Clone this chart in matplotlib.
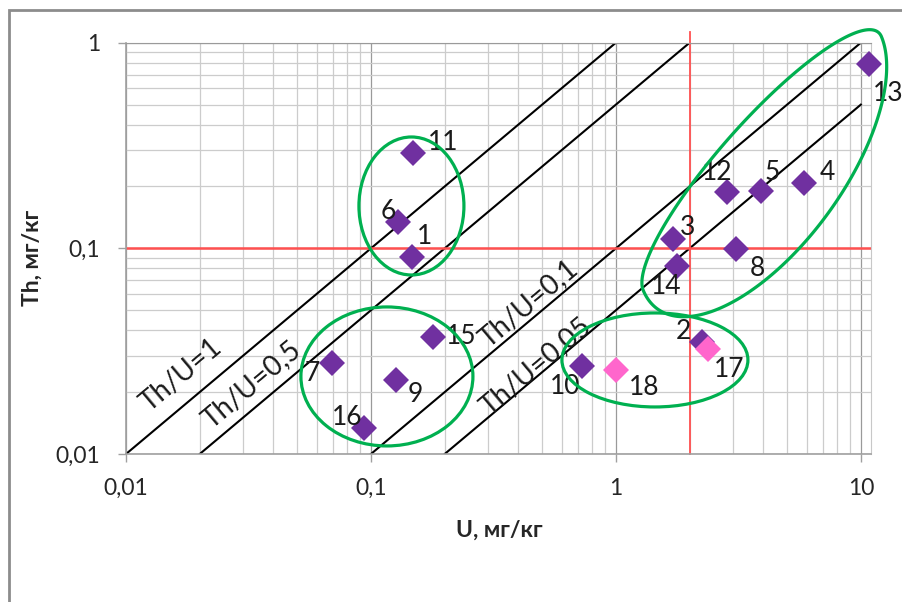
import numpy as np
import matplotlib
matplotlib.use('Agg')
import matplotlib.pyplot as plt
from matplotlib.patches import Ellipse, Polygon, Rectangle
from matplotlib.transforms import IdentityTransform
from matplotlib.ticker import FixedLocator, LogLocator, NullFormatter

plt.rcParams['font.family'] = ['Lato', 'Open Sans', 'DejaVu Sans']

# samples: U and Th, mg/kg
sample_id = ['1', '2', '3', '4', '5', '6', '7', '8', '9',
             '10', '11', '12', '13', '14', '15', '16', '17', '18']
u_val = [0.147, 2.25, 1.71, 5.85, 3.90, 0.129, 0.0694, 3.09, 0.1265,
         0.726, 0.148, 2.84, 10.8, 1.77, 0.179, 0.0936, 2.37, 1.0]
th_val = [0.0908, 0.035, 0.111, 0.207, 0.190, 0.134, 0.0277, 0.0989, 0.0229,
          0.0268, 0.291, 0.187, 0.785, 0.0823, 0.0371, 0.01337, 0.0325, 0.0256]
pink_ids = ['17', '18']

# Th/U reference lines
ratios = [1, 0.5, 0.1, 0.05]
ratio_text = ['Th/U=1', 'Th/U=0,5', 'Th/U=0,1', 'Th/U=0,05']

x_ticks = [0.01, 0.1, 1, 10]
x_ticklabels = ['0,01', '0,1', '1', '10']
y_ticks = [0.01, 0.1, 1]
y_ticklabels = ['0,01', '0,1', '1']

u_limit = 2     # red lines
th_limit = 0.1

# label placement (pixels from the point)
label_off = {'1': (13, 20), '2': (-19, 11), '3': (15, 12), '4': (24, 11),
             '5': (11, 19), '6': (-10, 11), '7': (-20, -10), '8': (21, -19),
             '9': (19, -15), '10': (-17, -21), '11': (30, 10), '12': (-10, 20),
             '13': (19, -29), '14': (-10, -21), '15': (28, 0), '16': (-17, 11),
             '17': (21, -21), '18': (28, -17)}
ratio_text_pos = [(0.01676, 0.02424), (0.0327, 0.02168), (0.4416, 0.0542), (0.471, 0.0268)]

purple = '#7030A0'
pink = '#FF66CC'
green = '#00B050'
red = '#FF5050'

fig = plt.figure(figsize=(9.02, 6.02), dpi=100)
ax = fig.add_axes([126 / 902, 1 - 454 / 602, 745 / 902, 411.3 / 602])
ax.set_xscale('log')
ax.set_yscale('log')
ax.set_xlim(0.01, 11)
ax.set_ylim(0.01, 1)

ax.xaxis.set_minor_locator(LogLocator(base=10, subs=np.arange(2, 10)))
ax.yaxis.set_minor_locator(LogLocator(base=10, subs=np.arange(2, 10)))
ax.xaxis.set_minor_formatter(NullFormatter())
ax.yaxis.set_minor_formatter(NullFormatter())
ax.xaxis.set_major_locator(FixedLocator(x_ticks))
ax.yaxis.set_major_locator(FixedLocator(y_ticks))
ax.set_xticklabels(x_ticklabels)
ax.set_yticklabels(y_ticklabels)

ax.grid(which='major', color='#9a9a9a', lw=0.9, zorder=0)
ax.grid(which='minor', color='#cccccc', lw=0.9, zorder=0)
ax.set_axisbelow(True)
ax.tick_params(which='major', direction='out', length=5.5, width=1,
               color='#a0a0a0', labelsize=16.5, labelcolor='#262626')
ax.tick_params(axis='x', pad=12)
ax.tick_params(axis='y', pad=13)
ax.tick_params(which='minor', length=0)
for side in ['left', 'bottom']:
    ax.spines[side].set_color('#a0a0a0')
    ax.spines[side].set_linewidth(1.2)
ax.spines['top'].set_color('#9a9a9a')
ax.spines['right'].set_color('#c8c8c8')

# ratio lines
for r in ratios:
    u_line = np.array([0.01 / r, min(1 / r, 10)])
    ax.plot(u_line, r * u_line, color='black', lw=1.5, zorder=2)

# red limits
ax.axhline(th_limit, color=red, lw=1.8, zorder=2)
ax.plot([u_limit, u_limit], [0.01, 1.13], color=red, lw=1.3, zorder=2, clip_on=False)

# points
for sid, u, th in zip(sample_id, u_val, th_val):
    c = pink if sid in pink_ids else purple
    z = 4 if sid in pink_ids else 3
    ax.plot(u, th, marker='D', ms=13.3, color=c, mew=0, ls='none', zorder=z, clip_on=False)
    ax.annotate(sid, (u, th), xytext=label_off[sid], textcoords='offset pixels',
                ha='center', va='center', fontsize=19, color='#1a1a1a', zorder=5,
                annotation_clip=False)

# line labels, rotated along the lines
p0 = ax.transData.transform((0.1, 0.1))
p1 = ax.transData.transform((1, 1))
ang = np.degrees(np.arctan2(p1[1] - p0[1], p1[0] - p0[0]))
for txt, (tx, ty) in zip(ratio_text, ratio_text_pos):
    ax.text(tx, ty, txt, rotation=ang, rotation_mode='anchor', ha='center', va='center',
            fontsize=20, color='#1a1a1a', zorder=5)

ax.set_xlabel('U, мг/кг', fontsize=16.5, fontweight='bold', color='#262626')
ax.xaxis.label.set_va('center')
ax.xaxis.set_label_coords(0.5007, -0.1848)
ax.set_ylabel('Th, мг/кг', fontsize=16.5, fontweight='bold', color='#262626')
ax.yaxis.label.set_va('center')
ax.yaxis.set_label_coords(-0.1262, 0.4765)

# hand drawn group outlines (centre in data, size in pixels)
ell_center = [(0.1463, 0.1607), (0.1162, 0.02383), (1.443, 0.02866)]
ell_size = [(105, 138), (172, 139), (186, 94)]
for (ex, ey), (w, h) in zip(ell_center, ell_size):
    cx, cy = ax.transData.transform((ex, ey))
    fig.add_artist(Ellipse((cx, cy), w, h, fill=False, edgecolor=green, lw=2.3,
                           transform=IdentityTransform()))


def egg(cx, cy, half_len, w_up, w_low, shear, angle, n=300):
    t = np.linspace(0, 2 * np.pi, n)
    b = np.where(np.sin(t) >= 0, w_up, w_low)
    v = b * np.sin(t)
    u = half_len * np.cos(t) + shear * v
    a = np.radians(angle)
    return np.column_stack([cx + u * np.cos(a) - v * np.sin(a),
                            cy + u * np.sin(a) + v * np.cos(a)])


cx, cy = ax.transData.transform((3.96, 0.2587))
fig.add_artist(Polygon(egg(cx, cy, 174, 42, 85, 0.45, 46.8), closed=True, fill=False,
                       edgecolor=green, lw=2.3, transform=IdentityTransform()))

# chart border
fig.add_artist(Rectangle((8.5 / 902, -0.05), 1.2, (602 - 9.5) / 602 + 0.05, fill=False,
                         edgecolor='#8c8c8c', lw=2, transform=fig.transFigure))

fig.savefig('out.png', dpi=100)
